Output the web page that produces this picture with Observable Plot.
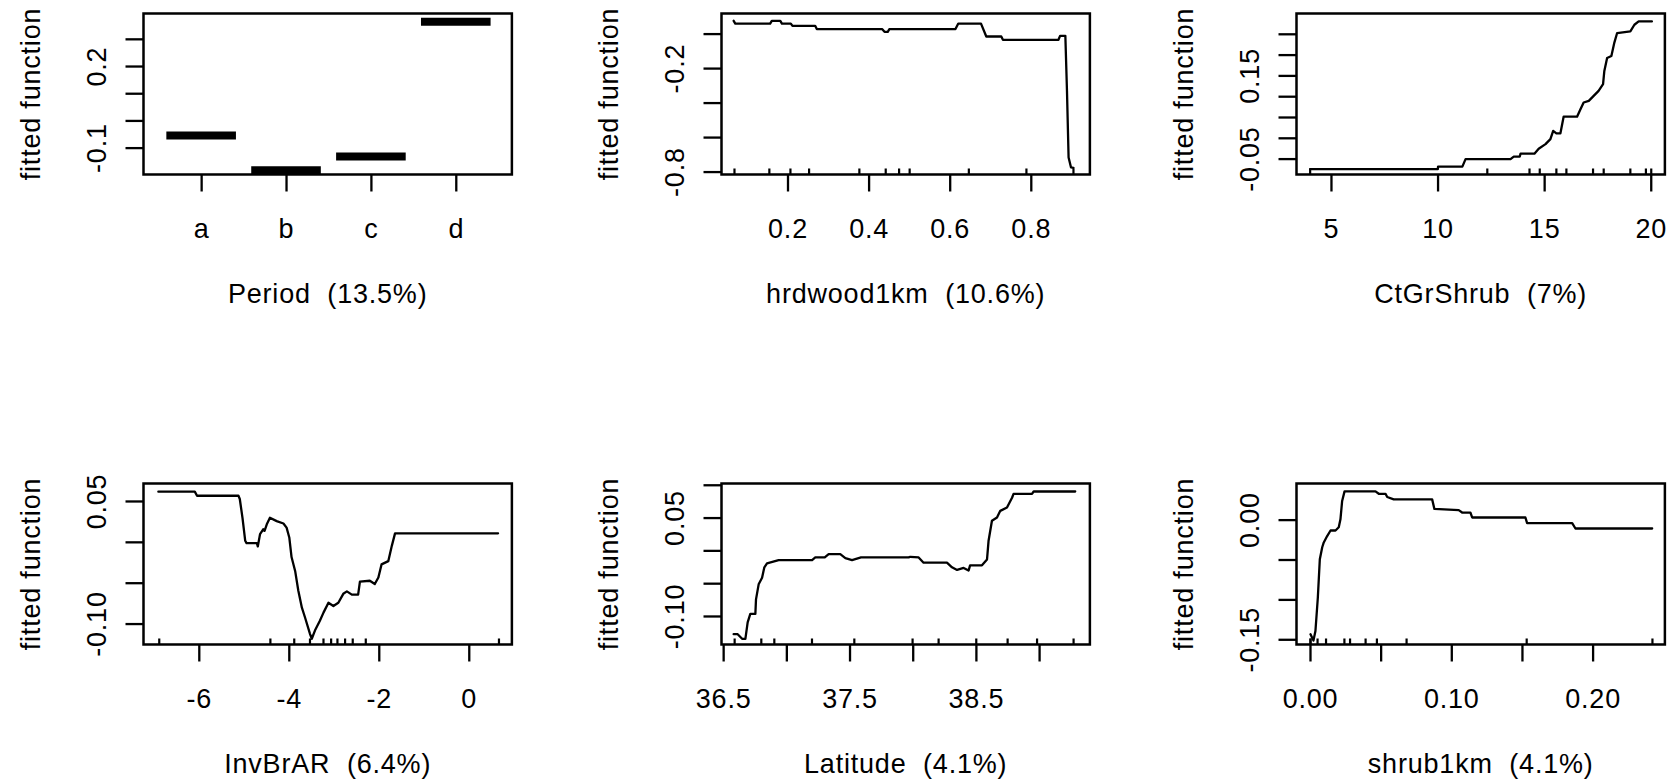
<!DOCTYPE html>
<html><head><meta charset="utf-8">
<script src="https://cdn.jsdelivr.net/npm/d3@7"></script>
<script src="https://cdn.jsdelivr.net/npm/@observablehq/plot@0.6"></script>
<style>
html,body{margin:0;padding:0;background:#fff;}
#root{position:relative;width:1676px;height:780px;overflow:hidden;background:#fff;}
#root svg{position:absolute;}
</style></head><body><div id="root"></div>
<script>
// ---------- data ----------
const panelTitles = ["Period\u00a0 (13.5%)", "hrdwood1km\u00a0 (10.6%)", "CtGrShrub\u00a0 (7%)",
                     "InvBrAR\u00a0 (6.4%)", "Latitude\u00a0 (4.1%)", "shrub1km\u00a0 (4.1%)"];
const yTitle = "fitted function";

// Period (factor)
const periodCats = ["a", "b", "c", "d"];
const periodFit = [-0.054, -0.181, -0.131, 0.365];
const periodXTicks = [1, 2, 3, 4];
const periodYTicks = [-0.1, 0, 0.1, 0.2, 0.3];
const periodYLabels = ["-0.1", "", "", "0.2", ""];

// hrdwood1km
const hrdwoodX = [0.066, 0.070, 0.156, 0.160, 0.181, 0.185, 0.207, 0.211, 0.267, 0.271, 0.432, 0.438, 0.446, 0.450,
  0.613, 0.620, 0.676, 0.689, 0.726, 0.730, 0.867, 0.871, 0.884, 0.888, 0.892, 0.898, 0.904];
const hrdwoodFit = [0.077, 0.061, 0.061, 0.077, 0.077, 0.061, 0.061, 0.048, 0.048, 0.029, 0.029, 0.013, 0.013, 0.029,
  0.029, 0.061, 0.061, -0.014, -0.014, -0.033, -0.033, -0.010, -0.010, -0.329, -0.715, -0.773, -0.775];
const hrdwoodRug = [0.068, 0.154, 0.206, 0.252, 0.376, 0.441, 0.474, 0.500, 0.646, 0.788, 0.904];
const hrdwoodXTicks = [0.2, 0.4, 0.6, 0.8];
const hrdwoodXLabels = ["0.2", "0.4", "0.6", "0.8"];
const hrdwoodYTicks = [-0.8, -0.6, -0.4, -0.2, 0];
const hrdwoodYLabels = ["-0.8", "", "", "-0.2", ""];

// CtGrShrub
const ctgrX = [4.0, 9.99, 10.0, 11.14, 11.29, 13.40, 13.55, 13.83, 13.87, 14.52, 14.72, 15.04, 15.27, 15.40, 15.55,
  15.74, 15.89, 16.52, 16.68, 16.83, 17.07, 17.30, 17.53, 17.74, 17.80, 17.93, 18.13, 18.27, 18.40, 19.02, 19.21, 19.41, 20.03];
const ctgrFit = [-0.074, -0.074, -0.068, -0.068, -0.050, -0.050, -0.044, -0.044, -0.037, -0.037, -0.025, -0.014, -0.002, 0.018, 0.012,
  0.012, 0.052, 0.052, 0.070, 0.086, 0.090, 0.102, 0.114, 0.130, 0.162, 0.193, 0.198, 0.230, 0.253, 0.257, 0.273, 0.281, 0.281];
const ctgrRug = [4.0, 12.31, 14.29, 14.77, 15.55, 16.02, 17.27, 17.77, 19.02, 19.75, 20.0];
const ctgrXTicks = [5, 10, 15, 20];
const ctgrXLabels = ["5", "10", "15", "20"];
const ctgrYTicks = [-0.05, 0, 0.05, 0.1, 0.15, 0.2, 0.25];
const ctgrYLabels = ["-0.05", "", "", "", "0.15", "", ""];

// InvBrAR
const invbrX = [-6.91, -6.10, -6.05, -5.13, -5.10, -5.04, -4.98, -4.95, -4.72, -4.70, -4.65, -4.58, -4.55, -4.50, -4.43,
  -4.28, -4.13, -4.06, -4.00, -3.95, -3.87, -3.80, -3.72, -3.65, -3.54, -3.50, -3.43, -3.32, -3.24, -3.13, -3.02, -2.91,
  -2.80, -2.72, -2.61, -2.47, -2.43, -2.21, -2.10, -2.02, -1.95, -1.80, -1.72, -1.65, 0.64];
const invbrFit = [0.062, 0.062, 0.057, 0.057, 0.053, 0.030, 0.002, -0.001, -0.001, -0.005, 0.010, 0.016, 0.014, 0.022, 0.030,
  0.026, 0.023, 0.018, 0.006, -0.018, -0.035, -0.059, -0.080, -0.092, -0.112, -0.118, -0.108, -0.096, -0.086, -0.074, -0.078, -0.074,
  -0.063, -0.060, -0.064, -0.064, -0.048, -0.047, -0.051, -0.043, -0.027, -0.023, -0.004, 0.011, 0.011];
const invbrRug = [-6.89, -4.42, -3.89, -3.54, -3.24, -3.07, -2.93, -2.76, -2.59, -2.30, 0.66];
const invbrXTicks = [-6, -4, -2, 0];
const invbrXLabels = ["-6", "-4", "-2", "0"];
const invbrYTicks = [-0.10, -0.05, 0, 0.05];
const invbrYLabels = ["-0.10", "", "", "0.05"];

// Latitude
const latX = [36.579, 36.611, 36.646, 36.672, 36.690, 36.711, 36.751, 36.756, 36.777, 36.804, 36.822, 36.843, 36.935, 37.200,
  37.225, 37.300, 37.331, 37.423, 37.463, 37.516, 37.587, 37.964, 37.977, 38.043, 38.082, 38.267, 38.307, 38.347, 38.399,
  38.438, 38.450, 38.544, 38.584, 38.596, 38.623, 38.663, 38.689, 38.742, 38.782, 38.794, 38.940, 38.953, 39.282];
const latFit = [-0.127, -0.127, -0.134, -0.134, -0.109, -0.096, -0.096, -0.074, -0.051, -0.041, -0.025, -0.019, -0.014, -0.014,
  -0.010, -0.010, -0.005, -0.005, -0.011, -0.014, -0.010, -0.010, -0.009, -0.010, -0.018, -0.018, -0.025, -0.029, -0.026,
  -0.030, -0.022, -0.022, -0.013, 0.015, 0.046, 0.051, 0.061, 0.066, 0.081, 0.087, 0.087, 0.0905, 0.0905];
const latRug = [36.587, 36.798, 36.901, 37.199, 37.534, 37.995, 38.201, 38.499, 38.747, 38.980, 39.269];
const latXTicks = [36.5, 37, 37.5, 38, 38.5, 39];
const latXLabels = ["36.5", "", "37.5", "", "38.5", ""];
const latYTicks = [-0.10, -0.05, 0, 0.05, 0.10];
const latYLabels = ["-0.10", "", "", "0.05", ""];

// shrub1km
const shrubX = [0.0, 0.0021, 0.0035, 0.0052, 0.0066, 0.0083, 0.0094, 0.0118, 0.0142, 0.0177, 0.0200, 0.0212, 0.0224, 0.0241,
  0.0460, 0.0483, 0.0531, 0.0543, 0.0589, 0.0861, 0.0877, 0.1049, 0.1073, 0.1132, 0.1144, 0.1521, 0.1533, 0.1852, 0.1875, 0.2418];
const shrubFit = [-0.143, -0.151, -0.139, -0.097, -0.049, -0.034, -0.028, -0.020, -0.013, -0.013, -0.009, 0.001, 0.024, 0.036,
  0.036, 0.033, 0.033, 0.029, 0.026, 0.026, 0.014, 0.0125, 0.0095, 0.0095, 0.0033, 0.0033, -0.0038, -0.0038, -0.0105, -0.0105];
const shrubRug = [0, 0, 0.005, 0.011, 0.024, 0.028, 0.039, 0.047, 0.068, 0.153, 0.242];
const shrubXTicks = [0, 0.05, 0.10, 0.15, 0.20];
const shrubXLabels = ["0.00", "", "0.10", "", "0.20"];
const shrubYTicks = [-0.15, -0.10, -0.05, 0];
const shrubYLabels = ["-0.15", "", "", "0.00"];

// ---------- layout ----------
const FONT = "'Liberation Sans', Arial, sans-serif";
const FS = 27;
const BOX_W = 368.4, BOX_H = 161;
const ML = 140, MT = 12, MR = 40, MB = 140;
const colLeft = [143.3, 721.2, 1296.0];
const rowTop = [12.7, 482.7];

const panels = [
  {title: panelTitles[0], col: 0, row: 0, xDomain: [0.315, 4.655], yDomain: [-0.197, 0.395],
   xTicks: periodXTicks, xLabels: periodCats, yTicks: periodYTicks, yLabels: periodYLabels, factor: true},
  {title: panelTitles[1], col: 1, row: 0, xDomain: [0.036, 0.9445], yDomain: [-0.814, 0.1194],
   xTicks: hrdwoodXTicks, xLabels: hrdwoodXLabels, yTicks: hrdwoodYTicks, yLabels: hrdwoodYLabels,
   lx: hrdwoodX, ly: hrdwoodFit, rug: hrdwoodRug},
  {title: panelTitles[2], col: 2, row: 0, xDomain: [3.36, 20.64], yDomain: [-0.087, 0.300],
   xTicks: ctgrXTicks, xLabels: ctgrXLabels, yTicks: ctgrYTicks, yLabels: ctgrYLabels,
   lx: ctgrX, ly: ctgrFit, rug: ctgrRug},
  {title: panelTitles[3], col: 0, row: 1, xDomain: [-7.24, 0.947], yDomain: [-0.125, 0.072],
   xTicks: invbrXTicks, xLabels: invbrXLabels, yTicks: invbrYTicks, yLabels: invbrYLabels,
   lx: invbrX, ly: invbrFit, rug: invbrRug},
  {title: panelTitles[4], col: 1, row: 1, xDomain: [36.483, 39.398], yDomain: [-0.1427, 0.1027],
   xTicks: latXTicks, xLabels: latXLabels, yTicks: latYTicks, yLabels: latYLabels,
   lx: latX, ly: latFit, rug: latRug},
  {title: panelTitles[5], col: 2, row: 1, xDomain: [-0.0099, 0.2508], yDomain: [-0.1559, 0.0459],
   xTicks: shrubXTicks, xLabels: shrubXLabels, yTicks: shrubYTicks, yLabels: shrubYLabels,
   lx: shrubX, ly: shrubFit, rug: shrubRug}
];

const root = document.getElementById("root");

for (const p of panels) {
  const xLab = new Map(p.xTicks.map((t, i) => [t, p.xLabels[i]]));
  const yLabData = p.yTicks.map((t, i) => ({v: t, t: p.yLabels[i]})).filter(d => d.t !== "");
  const marks = [
    Plot.axisX({ticks: p.xTicks, tickSize: 17.5, tickPadding: 27.3, tickFormat: d => xLab.get(d) ?? "",
                stroke: "black", strokeWidth: 2.3, label: null, fill: "black"}),
    Plot.axisY({ticks: p.yTicks, tickSize: 17.5, tickFormat: () => "", stroke: "black", strokeWidth: 2.3, label: null}),
    Plot.text(yLabData, {y: "v", text: "t", frameAnchor: "left", dx: -37.5, rotate: -90,
                         textAnchor: "middle", lineAnchor: "bottom", fill: "black"}),
    Plot.text([yTitle], {text: d => d, frameAnchor: "left", dx: -104, rotate: -90,
                         textAnchor: "middle", lineAnchor: "bottom", fill: "black"}),
    Plot.text([p.title], {text: d => d, frameAnchor: "bottom", dy: 129, lineAnchor: "bottom",
                          textAnchor: "middle", fill: "black"})
  ];
  if (p.factor) {
    marks.push(Plot.ruleY(periodFit, {
      y: periodFit,
      x1: periodCats.map((c, i) => i + 1 - 0.41),
      x2: periodCats.map((c, i) => i + 1 + 0.41),
      stroke: "black", strokeWidth: 8, strokeLinecap: "butt"
    }));
  } else {
    marks.push(Plot.ruleX(p.rug, {x: p.rug, insetTop: BOX_H - 5.5, stroke: "black", strokeWidth: 2.2}));
    marks.push(Plot.line(p.lx, {x: p.lx, y: p.ly, stroke: "black", strokeWidth: 2.3,
                                strokeLinejoin: "round", strokeLinecap: "round"}));
  }
  marks.push(Plot.frame({stroke: "black", strokeWidth: 2.5}));

  const svg = Plot.plot({
    width: ML + BOX_W + MR,
    height: MT + BOX_H + MB,
    marginLeft: ML, marginRight: MR, marginTop: MT, marginBottom: MB,
    x: {type: "linear", domain: p.xDomain},
    y: {type: "linear", domain: p.yDomain},
    style: {fontFamily: FONT, fontSize: FS + "px", background: "transparent", color: "black",
            overflow: "visible", letterSpacing: "0.8px"},
    marks
  });
  svg.style.left = (colLeft[p.col] - ML) + "px";
  svg.style.top = (rowTop[p.row] - MT) + "px";
  root.appendChild(svg);
}
</script>
</body></html>
